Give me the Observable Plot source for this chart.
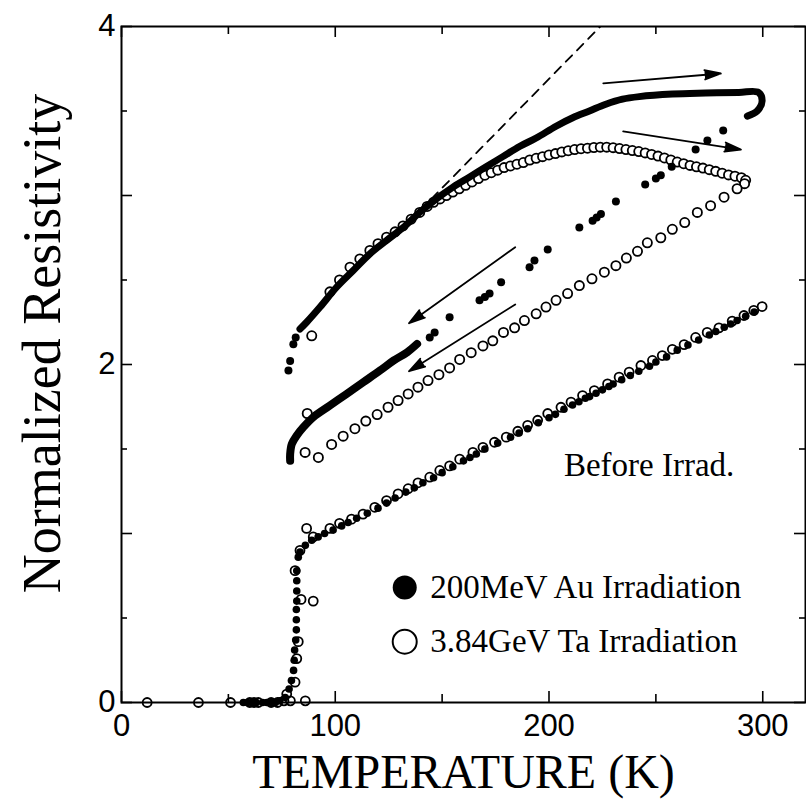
<!DOCTYPE html>
<html><head><meta charset="utf-8">
<script src="https://cdn.jsdelivr.net/npm/d3@7"></script>
<script src="https://cdn.jsdelivr.net/npm/@observablehq/plot@0.6"></script>
<style>body{margin:0;background:#fff}</style>
</head><body><div id="chart"></div>
<script>
// ---- axes / labels ----
const xTickLabels = [0, 100, 200, 300];
const xMinorTicks = [50, 150, 250];
const yTickLabels = [0, 2, 4];
const yMajorTicks = [0, 1, 2, 3, 4];
const yMinorTicks = [0.5, 1.5, 2.5, 3.5];
const xTitle = "TEMPERATURE (K)";
const yTitle = "Normalized Resistivity";
const legendLabels = ["200MeV Au Irradiation", "3.84GeV Ta Irradiation"];
const annotation = "Before Irrad.";

// ---- data: [temperature K, normalized resistivity] ----
const auBefore = [
  [57,0],[59,0],[61,0],[63,0],[66,0],[68,0],[70,0],[72,0],[74,0.01],[76.6,0.03],[78.4,0.08],[79.5,0.13],
  [80.5,0.19],[80.8,0.25],[81,0.31],[81.5,0.37],[81.8,0.43],[81.8,0.49],[81.8,0.55],[82,0.6],[82,0.66],
  [82,0.72],[82,0.78],[82.7,0.86],[83.5,0.89],[86,0.93],[89,0.96],[92,0.98],[95,1.0],[99,1.02],[103,1.045],
  [106,1.065],[110,1.09],[115,1.12],[120,1.15],[124,1.18],[128,1.21],[133,1.245],[137,1.27],[141,1.3],
  [146,1.33],[150,1.36],[155,1.395],[160,1.43],[163,1.45],[166,1.47],[170,1.5],[176,1.535],[182,1.57],
  [186,1.595],[190,1.62],[195,1.655],[200,1.685],[203,1.705],[207,1.735],[211,1.76],[214,1.78],[217,1.8],
  [219,1.81],[222,1.83],[225,1.85],[228,1.87],[230,1.885],[234,1.91],[238,1.935],[242,1.96],[247,1.99],
  [250,2.015],[255,2.045],[260,2.085],[265,2.115],[270,2.145],[275,2.175],[278,2.195],[282,2.22],
  [285,2.24],[288,2.26],[292,2.285],[296,2.31]
];
const taBefore = [
  [12,0],[36,0],[51,0],[60,0],[62,0],[64,0],[70,0],[73,0],[76,0.01],[77.3,0.05],[79,0.01],[86,0.01],
  [81.2,0.12],[82,0.26],[82.7,0.36],[84,0.61],[89.7,0.6],[86.6,1.03],
  [81.2,0.78],[83.5,0.9],[89.7,0.98],[97.5,1.03],[102,1.06],[107.6,1.085],[113,1.115],[118.5,1.155],
  [124,1.195],[129.4,1.235],[134.1,1.265],[138.7,1.3],[144.2,1.333],[148.9,1.373],[153.5,1.4],[158.2,1.44],
  [164.4,1.48],[169.1,1.51],[174.5,1.54],[180,1.57],[185.4,1.605],[190,1.64],[194.7,1.67],[199.4,1.71],
  [205.6,1.747],[210.3,1.777],[215.7,1.816],[221.2,1.846],[227.4,1.885],[232.8,1.925],[237.5,1.955],
  [243,1.994],[248.4,2.024],[253,2.053],[257.7,2.09],[263.2,2.118],[268.6,2.16],[274,2.19],[279.5,2.217],
  [285.7,2.257],[291.2,2.29],[295.8,2.32],[299.7,2.343]
];
// after Au irradiation, warming (dense -> drawn as thick trace) and cooling
const auWarmStart = [[78.1,1.964],[78.9,2.02],[80.4,2.12],[81.5,2.16]];
const auWarm = [
  [83.5,2.21],[86.6,2.25],[92.9,2.34],[100.6,2.457],[108.4,2.556],[116.2,2.655],[124,2.734],[131.7,2.81],
  [139.5,2.9],[147.3,2.98],[155.1,3.05],[162.9,3.11],[170.6,3.17],[178.4,3.23],[186.2,3.29],[194,3.34],
  [203.3,3.41],[211.1,3.46],[218.9,3.5],[226.6,3.54],[234.4,3.57],[242.2,3.585],[257.7,3.6],[273.3,3.606],
  [288.8,3.61],[298,3.61],[299.7,3.56],[297.4,3.5],[292.8,3.47]
];
const auCoolSparse = [
  [281.5,3.385],[274.1,3.325],[268.6,3.272],[257.4,3.17],[252.3,3.12],[250,3.1],[245,3.065],[231.3,2.965],
  [224.3,2.89],[222.3,2.87],[220.4,2.85],[214.2,2.81],[199.4,2.68],[193.2,2.615],[190.9,2.576],[177.6,2.487],
  [172.2,2.42],[170,2.4],[167.5,2.38],[153.5,2.28],[146.5,2.19],[144.2,2.16]
];
const auCoolDense = [
  [138.3,2.122],[133.7,2.073],[127.4,2.024],[120.9,1.964],[113.1,1.895],[105.3,1.826],[97.5,1.757],
  [89.7,1.688],[85.1,1.629],[82,1.58],[79.7,1.53],[78.9,1.47],[78.9,1.43]
];
// after Ta irradiation, warming and cooling
const taWarm = [
  [89,2.17],[97.5,2.43],[102,2.5],[106.9,2.576],[111.5,2.625],[116.2,2.675],[120,2.715],[124,2.753],
  [128,2.785],[131.7,2.82],[135.5,2.86],[139.5,2.9],[143,2.935],[146,2.96],[149,2.98],[152,3.0],[155,3.02],
  [158,3.04],[161,3.06],[164,3.08],[167,3.1],[170,3.12],[173,3.135],[176,3.15],[179,3.165],[182,3.175],
  [185,3.185],[188,3.195],[191,3.21],[194,3.22],[197,3.23],[200,3.24],[203,3.248],[206,3.258],[209,3.265],
  [212,3.272],[215,3.277],[218,3.28],[221,3.284],[224,3.286],[227,3.286],[230,3.283],[233,3.278],
  [236,3.272],[239,3.266],[242,3.26],[245,3.252],[248,3.243],[251,3.233],[254,3.222],[257,3.21],
  [260,3.198],[263,3.188],[266,3.178],[269,3.17],[272,3.162],[275,3.153],[278,3.143],[281,3.132],
  [284,3.122],[287,3.114],[290,3.105],[292,3.09],[291.5,3.07]
];
const taCool = [
  [288,3.04],[281.9,2.99],[275.6,2.94],[269.4,2.9],[263.5,2.84],[257.7,2.8],[252.3,2.75],[246,2.72],
  [241.4,2.67],[236.2,2.63],[231.3,2.585],[225.9,2.546],[220.1,2.507],[214.2,2.467],[208.7,2.42],
  [203.3,2.38],[198.6,2.34],[194,2.3],[188.5,2.26],[183.9,2.217],[178.7,2.19],[173.7,2.14],[169.1,2.11],
  [163.6,2.07],[158.2,2.03],[153.5,1.98],[148.5,1.94],[143.4,1.905],[138.7,1.866],[134.1,1.826],
  [129.4,1.787],[124.7,1.747],[119.6,1.704],[114.3,1.665],[109.2,1.62],[103.7,1.576],[98.3,1.527],
  [92.1,1.45],[85.9,1.48],[86.9,1.71]
];
// dashed linear extrapolation
const dashed = [[145,2.98],[224,4.0]];
// arrows (start T, start R, end T, end R)
const arrowT1 = [225.4, 234.7, 184.2, 184.2];
const arrowR1 = [3.663, 3.379, 2.694, 2.355];
const arrowT2 = [280.4, 289.8, 134.5, 134.5];
const arrowR2 = [3.722, 3.272, 2.244, 1.960];
// legend anchor positions in data units
const legendT = [132.5, 132.5];
const legendR = [0.68, 0.36];

const arrows = arrowT1.map((d, i) => ({x1: d, y1: arrowR1[i], x2: arrowT2[i], y2: arrowR2[i]}));
const serif = "'Liberation Serif', 'Times New Roman', serif";
const sans = "'Liberation Sans', Arial, sans-serif";
const plotH = 702 - 26, plotW = 805 - 121;

const chart = Plot.plot({
  width: 806, height: 806,
  marginLeft: 121, marginRight: 1, marginTop: 26, marginBottom: 104,
  x: {domain: [0, 320]},
  y: {domain: [0, 4]},
  style: {background: "#fff"},
  marks: [
    Plot.frame({stroke: "#000", strokeWidth: 2}),
    // inward ticks
    Plot.tickX(xTickLabels, {x: d => d, insetTop: plotH - 11, strokeWidth: 1.6}),
    Plot.tickX(xMinorTicks, {x: d => d, insetTop: plotH - 8, strokeWidth: 1.6}),
    Plot.tickX(xTickLabels, {x: d => d, insetBottom: plotH - 11, strokeWidth: 1.6}),
    Plot.tickX(xMinorTicks, {x: d => d, insetBottom: plotH - 8, strokeWidth: 1.6}),
    Plot.tickY(yMajorTicks, {y: d => d, insetRight: plotW - 11, strokeWidth: 1.6}),
    Plot.tickY(yMinorTicks, {y: d => d, insetRight: plotW - 6, strokeWidth: 1.6}),
    Plot.tickY(yMajorTicks, {y: d => d, insetLeft: plotW - 11, strokeWidth: 1.6}),
    Plot.tickY(yMinorTicks, {y: d => d, insetLeft: plotW - 6, strokeWidth: 1.6}),
    Plot.axisX({ticks: xTickLabels, tickFormat: d => String(d), tickSize: 0, tickPadding: 11, fontSize: 31, fontFamily: sans, label: null, fill: "#000"}),
    Plot.axisY({ticks: yTickLabels, tickFormat: d => String(d), tickSize: 0, tickPadding: 6, fontSize: 31, fontFamily: sans, label: null, fill: "#000"}),
    // titles
    Plot.text([yTitle], {frameAnchor: "left", textAnchor: "middle", lineAnchor: "middle", rotate: -90, dx: -79, dy: -21, fontSize: 54, fontFamily: serif, fill: "#000"}),
    Plot.text([xTitle], {frameAnchor: "bottom", textAnchor: "middle", lineAnchor: "middle", dy: 70, fontSize: 48, fontFamily: serif, fill: "#000"}),
    // dashed extrapolation
    Plot.line(dashed, {x: d => d[0], y: d => d[1], stroke: "#000", strokeWidth: 1.8, strokeDasharray: "9,7", clip: true}),
    // before irradiation
    Plot.dot(taBefore, {x: d => d[0], y: d => d[1], r: 4.5, stroke: "#000", strokeWidth: 1.8, fill: "none"}),
    Plot.dot(auBefore, {x: d => d[0], y: d => d[1], r: 3.8, fill: "#000"}),
    // Ta irradiated
    Plot.dot(taWarm, {x: d => d[0], y: d => d[1], r: 4.6, stroke: "#000", strokeWidth: 1.8, fill: "#fff"}),
    Plot.dot(taCool, {x: d => d[0], y: d => d[1], r: 4.6, stroke: "#000", strokeWidth: 1.8, fill: "#fff"}),
    // Au irradiated
    Plot.line(auWarm, {x: d => d[0], y: d => d[1], stroke: "#000", strokeWidth: 7, curve: "catmull-rom", strokeLinecap: "round"}),
    Plot.dot(auWarmStart, {x: d => d[0], y: d => d[1], r: 4, fill: "#000"}),
    Plot.dot(auCoolSparse, {x: d => d[0], y: d => d[1], r: 4, fill: "#000"}),
    Plot.line(auCoolDense, {x: d => d[0], y: d => d[1], stroke: "#000", strokeWidth: 8, curve: "catmull-rom", strokeLinecap: "round"}),
    // arrows (filled heads)
    Plot.arrow(arrows, {x1: "x1", y1: "y1", x2: "x2", y2: "y2", stroke: "#000", fill: "#000", strokeWidth: 1.8, headLength: 14, headAngle: 32}),
    // annotation
    Plot.text([annotation], {x: 207, y: 1.40, textAnchor: "start", fontSize: 33, fontFamily: serif, fill: "#000"}),
    // legend
    Plot.dot([0], {x: legendT[0], y: legendR[0], r: 12, fill: "#000"}),
    Plot.dot([0], {x: legendT[1], y: legendR[1], r: 12, stroke: "#000", strokeWidth: 2, fill: "none"}),
    Plot.text([legendLabels[0]], {x: legendT[0] + 12, y: legendR[0], textAnchor: "start", fontSize: 33, fontFamily: serif, fill: "#000"}),
    Plot.text([legendLabels[1]], {x: legendT[1] + 12, y: legendR[1], textAnchor: "start", fontSize: 33, fontFamily: serif, fill: "#000"})
  ]
});
document.getElementById("chart").append(chart);
</script>
</body></html>
